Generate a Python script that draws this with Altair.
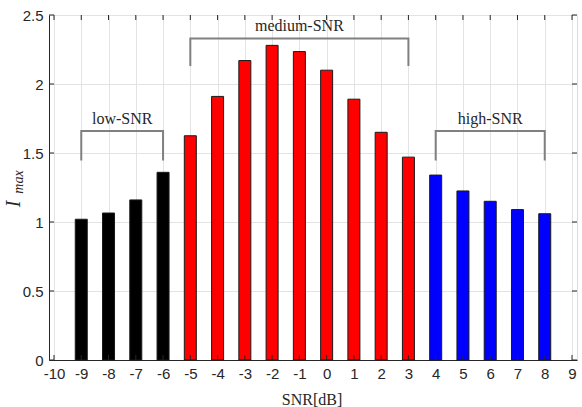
import altair as alt
import pandas as pd

snr = [-9, -8, -7, -6, -5, -4, -3, -2, -1, 0, 1, 2, 3, 4, 5, 6, 7, 8]
imax = [1.02, 1.065, 1.16, 1.36, 1.625, 1.91, 2.17, 2.28, 2.235, 2.10, 1.89, 1.65, 1.47, 1.34, 1.225, 1.15, 1.09, 1.06]
group = ["low"] * 4 + ["medium"] * 9 + ["high"] * 5

x_ticks = list(range(-10, 10))
y_ticks = [0, 0.5, 1, 1.5, 2, 2.5]

bracket_names = ["low-SNR", "medium-SNR", "high-SNR"]
bracket_x0 = [-9, -5, 4]
bracket_x1 = [-6, 3, 8]
bracket_top = [1.66, 2.33, 1.66]
bracket_bottom = [1.445, 2.13, 1.445]
label_y = [1.71, 2.385, 1.71]

bars = pd.DataFrame({"snr": snr, "imax": imax, "group": group})

rows = []
for i, n in enumerate(bracket_names):
    pts = [(bracket_x0[i], bracket_bottom[i]), (bracket_x0[i], bracket_top[i]),
           (bracket_x1[i], bracket_top[i]), (bracket_x1[i], bracket_bottom[i])]
    for k, (xx, yy) in enumerate(pts):
        rows.append({"name": n, "x": xx, "y": yy, "o": k})
brk = pd.DataFrame(rows)
labels = pd.DataFrame({"name": bracket_names,
                       "x": [(a + b) / 2 for a, b in zip(bracket_x0, bracket_x1)],
                       "y": label_y})

W, H = 528, 345
xs = alt.Scale(domain=[-10, 9], nice=False, zero=False)
ys = alt.Scale(domain=[0, 2.5], nice=False)

xaxis = alt.Axis(values=x_ticks, title=None, grid=True, gridColor="#e3e3e3",
                 labelFont="Liberation Sans", labelFontSize=15, labelColor="#262626",
                 domainColor="#262626", tickSize=0, labelPadding=6, labelFlush=False,
                 labelOverlap=False,
                 labelExpr="datum.value < 0 ? '-' + abs(datum.value) : '' + datum.value")
yaxis = alt.Axis(values=y_ticks, title=None, grid=True, gridColor="#e3e3e3",
                 labelFont="Liberation Sans", labelFontSize=15, labelColor="#262626",
                 domainColor="#262626", tickSize=0, labelPadding=6, labelOverlap=False,
                 labelExpr="'' + datum.value")

bar = alt.Chart(bars).mark_bar(size=12, stroke="#1a1a1a", strokeWidth=1).encode(
    x=alt.X("snr:Q", scale=xs, axis=xaxis),
    y=alt.Y("imax:Q", scale=ys, axis=yaxis),
    color=alt.Color("group:N", scale=alt.Scale(domain=["low", "medium", "high"],
                                               range=["#000000", "#ff0000", "#0000ff"]),
                    legend=None),
)

brackets = alt.Chart(brk).mark_line(color="#808080", strokeWidth=2).encode(
    x=alt.X("x:Q", scale=xs, axis=xaxis), y=alt.Y("y:Q", scale=ys, axis=yaxis),
    detail="name:N", order="o:Q")

txt = alt.Chart(labels).mark_text(font="Liberation Serif", fontSize=16, color="#262626",
                                  baseline="alphabetic").encode(
    x=alt.X("x:Q", scale=xs, axis=xaxis), y=alt.Y("y:Q", scale=ys, axis=yaxis), text="name:N")

tickdf = pd.DataFrame({"t": x_ticks})
ytickdf = pd.DataFrame({"t": y_ticks})
bt = alt.Chart(tickdf).mark_rule(color="#262626").encode(
    x=alt.X("t:Q", scale=xs, axis=xaxis), y=alt.value(H), y2=alt.value(H - 5))
tt = alt.Chart(tickdf).mark_rule(color="#262626").encode(
    x=alt.X("t:Q", scale=xs, axis=xaxis), y=alt.value(0), y2=alt.value(5))
lt = alt.Chart(ytickdf).mark_rule(color="#262626").encode(
    y=alt.Y("t:Q", scale=ys, axis=yaxis), x=alt.value(0), x2=alt.value(5))
rt = alt.Chart(ytickdf).mark_rule(color="#262626").encode(
    y=alt.Y("t:Q", scale=ys, axis=yaxis), x=alt.value(W), x2=alt.value(W - 5))

ytitle_i = alt.Chart(pd.DataFrame({"s": ["I"]})).mark_text(
    font="Liberation Serif", fontSize=20, fontStyle="italic", angle=270,
    color="#262626", baseline="alphabetic", align="center").encode(
    text="s:N", x=alt.value(-29), y=alt.value(189))
ytitle_sub = alt.Chart(pd.DataFrame({"s": ["max"]})).mark_text(
    font="Liberation Serif", fontSize=14, fontStyle="italic", angle=270,
    color="#262626", baseline="alphabetic", align="center").encode(
    text="s:N", x=alt.value(-26), y=alt.value(167))
xtitle = alt.Chart(pd.DataFrame({"s": ["SNR[dB]"]})).mark_text(
    font="Liberation Serif", fontSize=16, color="#262626", baseline="alphabetic").encode(
    text="s:N", x=alt.value(263), y=alt.value(390))

chart = alt.layer(bar, brackets, txt, bt, tt, lt, rt, ytitle_i, ytitle_sub, xtitle).properties(
    width=W, height=H,
    autosize=alt.AutoSizeParams(type="none"),
    padding={"left": 49, "top": 15, "right": 5, "bottom": 47},
).configure_view(stroke="#262626", strokeWidth=1).configure(background="white")

chart.save("out.html", embed_options={"renderer": "svg", "actions": False})
